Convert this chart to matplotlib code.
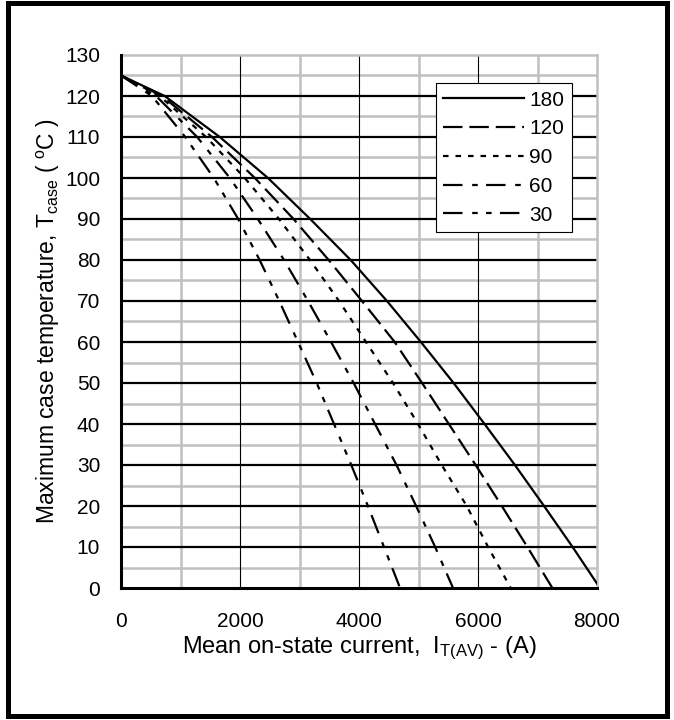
import numpy as np
import matplotlib
matplotlib.use("Agg")
import matplotlib.pyplot as plt
from matplotlib.patches import Rectangle

plt.rcParams['font.family'] = ['Liberation Sans', 'DejaVu Sans']
plt.rcParams['mathtext.default'] = 'regular'
plt.rcParams['lines.scale_dashes'] = False

# case temperature (deg C) at which each current was read
temp = [125, 120, 110, 100, 90, 80, 70, 60, 50, 40, 30, 20, 10, 0]

# mean on-state current (A) for each conduction angle
i_180 = [0, 734, 1660, 2470, 3180, 3860, 4470, 5040, 5590, 6110, 6620, 7110, 7590, 8050]
i_120 = [0, 690, 1530, 2250, 2900, 3490, 4050, 4600, 5060, 5510, 5960, 6400, 6830, 7250]
i_90 = [0, 650, 1430, 2080, 2655, 3176, 3664, 4118, 4571, 4992, 5390, 5810, 6170, 6550]
i_60 = [0, 590, 1280, 1830, 2300, 2740, 3143, 3530, 3910, 4270, 4630, 4960, 5280, 5580]
i_30 = [0, 520, 1080, 1560, 1970, 2330, 2660, 2975, 3289, 3580, 3870, 4150, 4420, 4690]

labels = ['180', '120', '90', '60', '30']
series = [i_180, i_120, i_90, i_60, i_30]
styles = ['-', (0, (14, 5)), (0, (4, 5)), (0, (14, 7, 4, 6)), (0, (14, 7, 4, 6, 4, 6))]

fig = plt.figure(figsize=(6.74, 7.2), dpi=100)
ax = fig.add_axes([121 / 674, 1 - 588 / 720, 476 / 674, 533 / 720])

# grid
for y in np.arange(5, 130, 10):
    ax.axhline(y, color='#c0c0c0', lw=1.8, zorder=1)
for x in [1000, 3000, 5000, 7000]:
    ax.axvline(x, color='#c0c0c0', lw=1.8, zorder=1)
for y in np.arange(10, 130, 10):
    ax.axhline(y, color='black', lw=1.6, zorder=2)
for x in [2000, 4000, 6000]:
    ax.axvline(x, color='black', lw=0.8, zorder=2)

for cur, lab, ls in zip(series, labels, styles):
    ax.plot(cur, temp, color='black', lw=1.6, linestyle=ls, label=lab, zorder=3)

ax.set_xlim(0, 8000)
ax.set_ylim(0, 130)
ax.set_xticks([0, 2000, 4000, 6000, 8000])
ax.set_yticks(np.arange(0, 131, 10))
ax.tick_params(length=0, labelsize=15)
ax.tick_params(axis='y', pad=15)
ax.tick_params(axis='x', pad=17)

for s in ['top', 'right']:
    ax.spines[s].set_color('#c0c0c0')
    ax.spines[s].set_linewidth(1.8)
for s in ['left', 'bottom']:
    ax.spines[s].set_color('black')
    ax.spines[s].set_linewidth(2.2)
ax.spines['left'].set_zorder(4)
ax.spines['bottom'].set_zorder(4)

ax.set_xlabel('Mean on-state current,  I$_{T(AV)}$ - (A)', fontsize=17, labelpad=3)
ax.set_ylabel('Maximum case temperature, T$_{case}$ ( $^{o}$C )', fontsize=16.5, labelpad=2)

leg = ax.legend(loc='upper right', bbox_to_anchor=(0.947, 0.947), fontsize=15,
                handlelength=3.9, handletextpad=0.25, labelspacing=0.47,
                borderpad=0.35, borderaxespad=0, fancybox=False,
                framealpha=1, edgecolor='black')
leg.get_frame().set_linewidth(0.8)
leg.set_zorder(5)

fig.patches.append(Rectangle((8 / 674, 1 - 716 / 720), 659 / 674, 713 / 720,
                             transform=fig.transFigure, fill=False,
                             lw=3.6, ec='black'))

fig.savefig('out.png', dpi=100)
